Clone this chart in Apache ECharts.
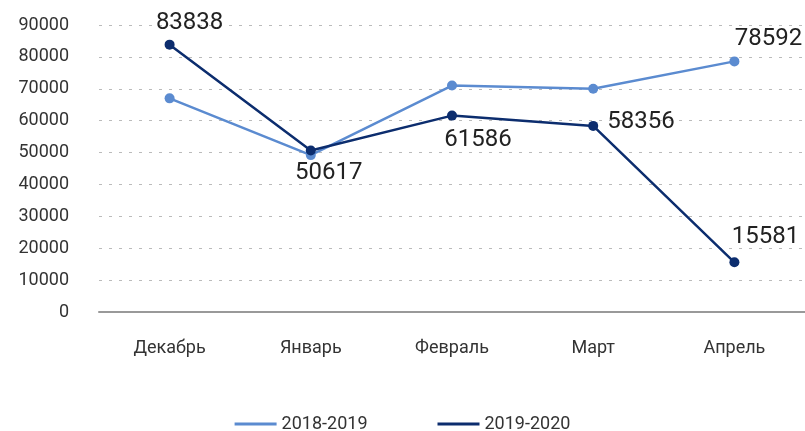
<!DOCTYPE html>
<html>
<head>
<meta charset="utf-8">
<script src="https://cdn.jsdelivr.net/npm/echarts@6/dist/echarts.min.js"></script>
<style>
  html, body { margin: 0; padding: 0; background: #fff; }
  #chart { width: 805px; height: 431px; }
</style>
</head>
<body>
<div id="chart"></div>
<script>
// данные
var months = ["Декабрь", "Январь", "Февраль", "Март", "Апрель"];
var season1 = [67000, 49200, 71000, 70000, 78592];
var season2 = [83838, 50617, 61586, 58356, 15581];
var seriesNames = ["2018-2019", "2019-2020"];

var chart = echarts.init(document.getElementById("chart"));

// подписи значений: какие точки подписаны и куда
var labelSpots1 = { 4: { position: "top", offset: [34, 0] } };
var labelSpots2 = {
  0: { position: "top", offset: [20, 0] },
  1: { position: "bottom", offset: [18, 0] },
  2: { position: "bottom", offset: [26, 2] },
  3: { position: "right", offset: [4, -4] },
  4: { position: "top", offset: [31, -3] }
};

function withLabels(values, spots) {
  return values.map(function (v, i) {
    var s = spots[i];
    if (!s) return v;
    return {
      value: v,
      label: { show: true, position: s.position, offset: s.offset }
    };
  });
}

var labelText = {
  show: false,
  color: "#222",
  fontSize: 24,
  fontFamily: "Roboto"
};

var option = {
  animation: false,
  textStyle: { fontFamily: "Roboto" },
  grid: { left: 99, width: 710, top: 25, bottom: 119, containLabel: false },
  legend: {
    top: 410,
    left: "center",
    icon: "rect",
    itemWidth: 42,
    itemHeight: 3,
    itemGap: 70,
    textStyle: { fontSize: 18, color: "#333", fontFamily: "Roboto" },
    data: seriesNames
  },
  xAxis: {
    type: "category",
    data: months,
    axisLine: { lineStyle: { color: "#999", width: 2 } },
    axisTick: { alignWithLabel: true, length: 12, lineStyle: { color: "#888" } },
    axisLabel: { color: "#333", fontSize: 18, margin: 27 }
  },
  yAxis: {
    type: "value",
    min: 0,
    max: 90000,
    interval: 10000,
    axisLine: { show: false },
    axisTick: { show: false },
    axisLabel: {
      color: "#333",
      fontSize: 18,
      margin: 30,
      formatter: function (v) { return String(v); }
    },
    splitLine: { lineStyle: { color: "#bbb", type: [3, 7], width: 1 } }
  },
  series: [
    {
      name: seriesNames[0],
      type: "line",
      data: withLabels(season1, labelSpots1),
      symbol: "circle",
      symbolSize: 10,
      color: "#5b8bd0",
      lineStyle: { width: 2.5 },
      label: labelText
    },
    {
      name: seriesNames[1],
      type: "line",
      data: withLabels(season2, labelSpots2),
      symbol: "circle",
      symbolSize: 10,
      color: "#0c2d6e",
      lineStyle: { width: 2.5 },
      label: labelText
    }
  ]
};

chart.setOption(option);
window.onresize = chart.resize;
</script>
</body>
</html>
